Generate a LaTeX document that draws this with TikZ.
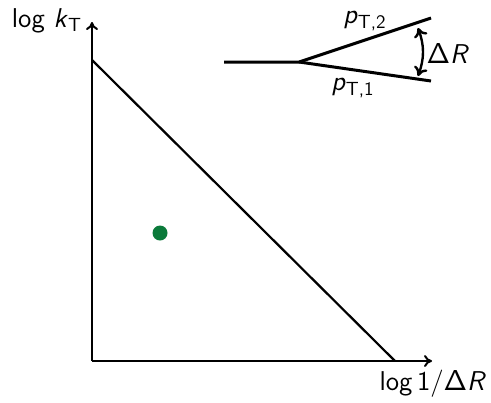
\documentclass[tikz,border=0pt]{standalone}
\usetikzlibrary{arrows.meta, positioning}
\definecolor{dotgreen}{HTML}{0B7A3A}

\tikzset{
    axis/.style={line width=1pt, -{To[length=4pt, width=6pt]}},
    edge/.style={line width=1.1pt},
    jet/.style={line width=1.5pt},
    sep/.style={line width=1.2pt, {To[length=4.5pt, width=7pt]}-{To[length=4.5pt, width=7pt]}},
    dot/.style={circle, fill=dotgreen, inner sep=0pt, minimum size=7.5pt}
}
\newcommand{\dR}{$\mathsf{\Delta}$\textit{R}}

\begin{document}
\begin{tikzpicture}[x=0.5pt, y=-0.5pt, font=\fontsize{13.6}{16}\selectfont\sffamily]
    \useasboundingbox (0,0) rectangle (491,402);
    % Lund plane
    \coordinate (origin) at (92,361);
    \coordinate (ytop) at (92,22);
    \coordinate (xend) at (432,361);
    \coordinate (kmax) at (92,60);
    \coordinate (rmax) at (395,361);
    \draw[axis] (origin) -- (ytop);
    \draw[axis] (origin) -- (xend);
    \draw[edge] (kmax) -- (rmax);
    \node[dot] (emission) at (160,233) {};
    \node (ylabel) at (47,21) {log \textit{k}\textsubscript{T}};
    \node (xlabel) at (433,384) {log\,1/\dR};
    % Splitting sketch
    \coordinate (parent) at (224,62);
    \coordinate (split) at (299,62);
    \coordinate (daughter2) at (431,18);
    \coordinate (daughter1) at (431,81);
    \draw[jet] (parent) -- (split) -- (daughter2);
    \draw[jet] (split) -- (daughter1);
    \coordinate (septop) at (418,28);
    \coordinate (sepbottom) at (418,76);
    \draw[sep] (septop) to[bend left=20] (sepbottom);
    \node (pt2) at (365,21) {\textit{p}\textsubscript{T,2}};
    \node (pt1) at (353,88) {\textit{p}\textsubscript{T,1}};
    \node (dR) at (448,53) {\dR};
\end{tikzpicture}
\end{document}
